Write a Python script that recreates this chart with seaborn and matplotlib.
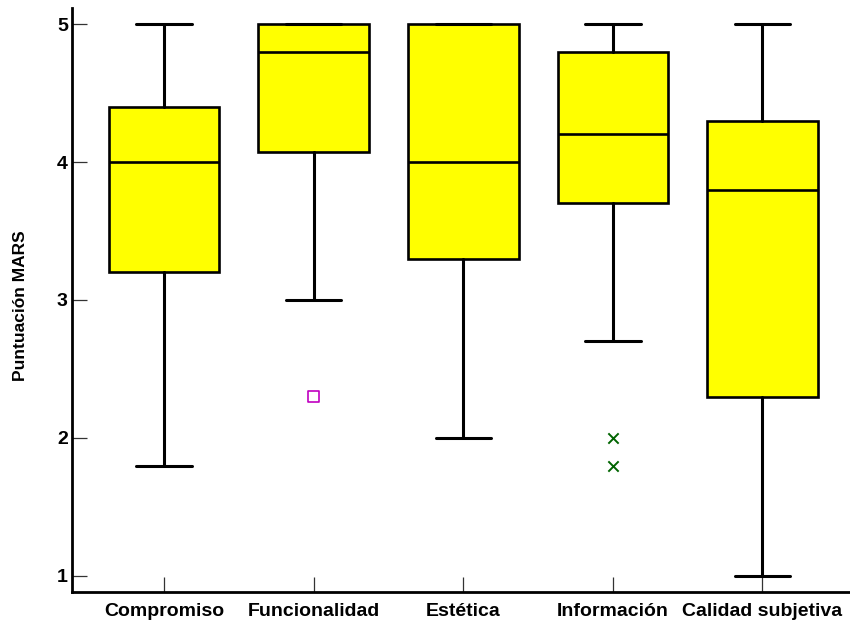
import matplotlib
matplotlib.use("Agg")
import matplotlib.pyplot as plt
import seaborn as sns
import pandas as pd

# MARS dimension scores: box statistics per dimension
categories = ["Compromiso", "Funcionalidad", "Estética", "Información", "Calidad subjetiva"]
whisker_low = [1.8, 3.0, 2.0, 2.7, 1.0]
q1 = [3.2, 4.07, 3.3, 3.7, 2.3]
median = [4.0, 4.8, 4.0, 4.2, 3.8]
q3 = [4.4, 5.0, 5.0, 4.8, 4.3]
whisker_high = [5.0, 5.0, 5.0, 5.0, 5.0]

# outlying apps
outlier_category = ["Funcionalidad", "Información", "Información"]
outlier_value = [2.3, 2.0, 1.8]
outlier_kind = ["sq", "x", "x"]

y_ticks = [1, 2, 3, 4, 5]

sns.set_style("white")
plt.rcParams["font.family"] = ["Liberation Sans", "DejaVu Sans"]
plt.rcParams["font.weight"] = "bold"
plt.rcParams["text.color"] = "black"
plt.rcParams["axes.labelcolor"] = "black"
plt.rcParams["xtick.color"] = "black"
plt.rcParams["ytick.color"] = "black"

fig = plt.figure(figsize=(8.5, 6.28), dpi=100)
ax = fig.add_axes([72 / 850, 36 / 628, 778 / 850, 584 / 628])

stats = []
for i, cat in enumerate(categories):
    stats.append({
        "label": cat,
        "whislo": whisker_low[i],
        "q1": q1[i],
        "med": median[i],
        "q3": q3[i],
        "whishi": whisker_high[i],
        "fliers": [],
    })

ax.bxp(
    stats,
    positions=range(len(categories)),
    widths=0.74,
    patch_artist=True,
    showfliers=False,
    boxprops=dict(facecolor="#ffff00", edgecolor="black", linewidth=1.9),
    medianprops=dict(color="black", linewidth=1.9),
    whiskerprops=dict(color="black", linewidth=2.2),
    capprops=dict(color="black", linewidth=2.2),
)

# outliers drawn with their own marker per dimension
out_df = pd.DataFrame({
    "pos": [categories.index(c) for c in outlier_category],
    "value": outlier_value,
    "kind": outlier_kind,
})
sq = out_df[out_df["kind"] == "sq"]
xs = out_df[out_df["kind"] == "x"]
sns.scatterplot(x=sq["pos"], y=sq["value"], ax=ax, marker="s", s=70,
                facecolor="none", edgecolor="#c000c0", linewidth=1.2, zorder=5)
sns.scatterplot(x=xs["pos"], y=xs["value"], ax=ax, marker="x", s=55,
                color="#006400", linewidth=1.4, zorder=5)

ax.set_xlim(-0.615, 4.585)
ax.set_ylim(0.884, 5.116)
ax.set_yticks(y_ticks)
ax.set_yticklabels([str(t) for t in y_ticks])
ax.set_xticks(range(len(categories)))
ax.set_xticklabels(categories)
ax.set_xlabel("")
ax.set_ylabel("Puntuación MARS", fontsize=12.5, fontweight="bold", color="black")
ax.yaxis.set_label_coords(-0.056, 0.49)

for side in ["top", "right"]:
    ax.spines[side].set_visible(False)
for side in ["left", "bottom"]:
    ax.spines[side].set_color("black")
    ax.spines[side].set_linewidth(2.0)

ax.tick_params(axis="y", left=True, direction="in", length=11, width=0.9,
               color="#333333", labelcolor="black", pad=3, labelsize=14)
ax.tick_params(axis="x", bottom=True, direction="in", length=11, width=0.9,
               color="#333333", labelcolor="black", pad=8, labelsize=14)
for lab in ax.get_xticklabels() + ax.get_yticklabels():
    lab.set_fontweight("bold")

fig.savefig("out.png", dpi=100, facecolor="white")
